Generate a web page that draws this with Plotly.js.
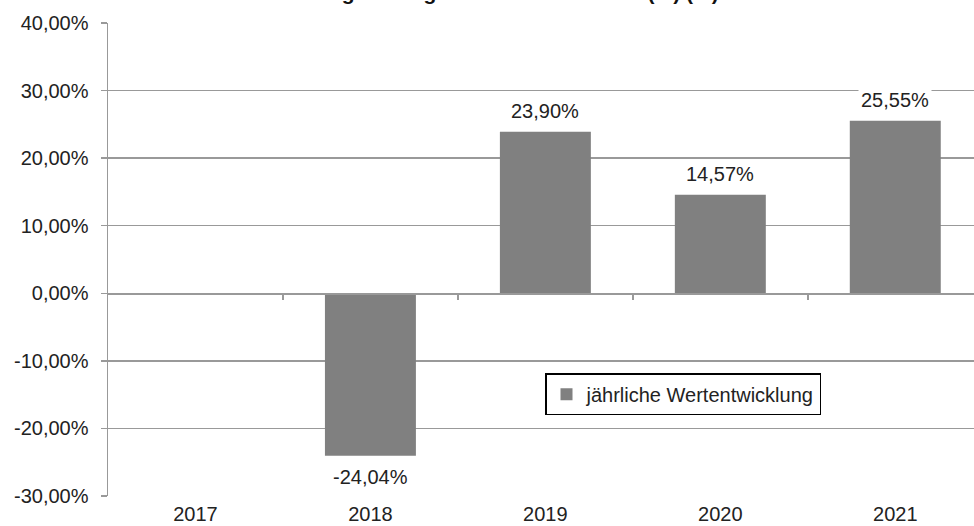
<!DOCTYPE html>
<html>
<head>
<meta charset="utf-8">
<script src="https://cdn.plot.ly/plotly-3.0.1.min.js"></script>
<style>html,body{margin:0;padding:0;background:#fff;overflow:hidden}#chart{width:974px;height:526px}</style>
</head>
<body>
<div id="chart"></div>
<script>
const years = ["2017", "2018", "2019", "2020", "2021"];
const values = [null, -24.04, 23.90, 14.57, 25.55];
const yTickValues = [-30, -20, -10, 0, 10, 20, 30, 40];
const seriesName = "jährliche Wertentwicklung";
const titleText = "Wertentwicklung im Vergleich zur Benchmark (%) (%)";

const FONT = 'Liberation Sans, Arial, sans-serif';
function fmt(v) { return v.toFixed(2).replace('.', ',') + '%'; }

const trace = {
  type: 'bar',
  x: years,
  y: values,
  name: seriesName,
  marker: {color: '#808080'},
  width: 0.52,
  showlegend: true,
  hoverinfo: 'none'
};

const zeroAxis = {
  type: 'scatter', x: [0.5], y: [0], xaxis: 'x2', yaxis: 'y',
  mode: 'markers', marker: {opacity: 0}, showlegend: false, hoverinfo: 'none'
};

const annotations = [];
for (let i = 0; i < years.length; i++) {
  const v = values[i];
  if (v === null || v === undefined) continue;
  annotations.push({
    x: i, y: v, xref: 'x', yref: 'y',
    text: fmt(v), showarrow: false,
    xanchor: 'center', yanchor: 'middle', yshift: v >= 0 ? 21 : -21,
    bgcolor: '#ffffff', borderpad: 2,
    font: {family: FONT, size: 20, color: '#222'}
  });
}
annotations.push({
  xref: 'paper', yref: 'paper', x: (453 - 108) / 866, y: 1,
  xanchor: 'center', yanchor: 'bottom', yshift: 17,
  text: '<b>' + titleText + '</b>', showarrow: false,
  font: {family: FONT, size: 21, color: '#111'}
});

const layout = {
  width: 974, height: 526,
  margin: {l: 108, r: 0, t: 22.5, b: 30, pad: 0},
  paper_bgcolor: '#fff', plot_bgcolor: '#fff',
  font: {family: FONT, size: 20, color: '#222'},
  separators: ',.',
  xaxis: {
    type: 'category',
    range: [-0.5, 4.45],
    showgrid: false, zeroline: false,
    showline: false,
    ticks: '',
    ticklabelstandoff: 4,
    tickfont: {family: FONT, size: 20, color: '#222'},
    fixedrange: true
  },
  xaxis2: {
    overlaying: 'x', anchor: 'free', position: 30 / 70,
    range: [-0.5, 4.45],
    tickmode: 'array', tickvals: [0.5, 1.5, 2.5, 3.5],
    ticks: 'outside', ticklen: 5, tickwidth: 1.5, tickcolor: '#999',
    showticklabels: false, showgrid: false, zeroline: false,
    showline: true, linecolor: '#999', linewidth: 1.5,
    fixedrange: true
  },
  yaxis: {
    range: [-30, 40],
    tickmode: 'array', tickvals: yTickValues,
    ticktext: yTickValues.map(fmt),
    showgrid: true, gridcolor: '#999', gridwidth: 1.5,
    zeroline: false,
    showline: true, linecolor: '#999', linewidth: 1.5,
    ticks: 'outside', ticklen: 6, tickwidth: 1.5, tickcolor: '#999',
    ticklabelstandoff: 8,
    tickfont: {family: FONT, size: 20, color: '#222'},
    fixedrange: true
  },
  legend: {
    x: (545 - 108) / 866, y: (496 - 373) / 473.5, xanchor: 'left', yanchor: 'top',
    bgcolor: '#fff', bordercolor: '#000', borderwidth: 1.5,
    font: {family: FONT, size: 20, color: '#222'},
    itemwidth: 30
  },
  annotations: annotations,
  showlegend: true
};

Plotly.newPlot('chart', [trace, zeroAxis], layout, {displayModeBar: false, staticPlot: true});
</script>
</body>
</html>
